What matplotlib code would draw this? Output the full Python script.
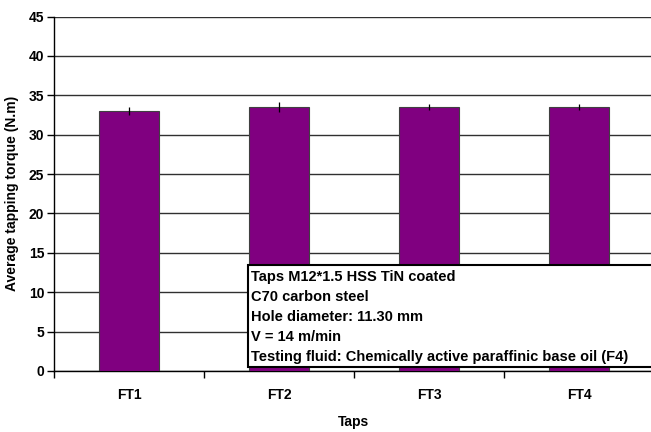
import matplotlib
matplotlib.use('Agg')
import matplotlib.pyplot as plt
import numpy as np

taps = ['FT1', 'FT2', 'FT3', 'FT4']
torque = [33.0, 33.5, 33.5, 33.5]
torque_err = [0.55, 0.65, 0.4, 0.4]

info_lines = ['Taps M12*1.5 HSS TiN coated',
              'C70 carbon steel',
              'Hole diameter: 11.30 mm',
              'V = 14 m/min',
              'Testing fluid: Chemically active paraffinic base oil (F4)']

plt.rcParams['font.family'] = ['Liberation Sans', 'DejaVu Sans']
plt.rcParams['font.weight'] = 'bold'

fig = plt.figure(figsize=(6.51, 4.32), dpi=100)
W, H = 651, 432
ax = fig.add_axes([54 / W, 1 - 371 / H, 600 / W, (371 - 16.5) / H])

x = np.arange(len(taps))
ax.bar(x, torque, width=0.4, color='#800080', edgecolor='#404040', linewidth=0.8, zorder=3)
ax.errorbar(x, torque, yerr=torque_err, fmt='none', ecolor='black', elinewidth=0.9,
            capsize=0, zorder=4)

ax.set_xlim(-0.5, len(taps) - 0.5)
ax.set_ylim(0, 45)
ax.set_yticks(np.arange(0, 46, 5))
ax.yaxis.grid(True, color='#303030', linewidth=1.0, zorder=0)
ax.set_axisbelow(True)

ax.set_xticks(np.arange(-0.5, len(taps), 1.0))
ax.set_xticklabels([])
ax.set_xticks(x, minor=True)
ax.set_xticklabels(taps, minor=True, fontsize=10, fontweight='bold')
ax.tick_params(axis='x', which='minor', length=0, pad=12)
ax.tick_params(axis='x', which='major', length=5, width=1, direction='out')
ax.tick_params(axis='y', length=5, width=1, direction='out', labelsize=10, pad=2)
for lab in ax.get_yticklabels():
    lab.set_fontweight('bold')

for s in ['top', 'right']:
    ax.spines[s].set_visible(False)
ax.spines['left'].set_linewidth(1.0)
ax.spines['bottom'].set_linewidth(1.0)

fig.text(354 / W, 1 - 422 / H, 'Taps', fontsize=10, fontweight='bold',
         ha='center', va='center')
fig.text(12 / W, 1 - 193 / H, 'Average tapping torque (N.m)', rotation=90,
         fontsize=10, fontweight='bold', ha='center', va='center')

# info box
box = plt.Rectangle((248 / W, 1 - 367 / H), 420 / W, 102 / H, transform=fig.transFigure,
                    facecolor='white', edgecolor='black', linewidth=1.5, zorder=5)
fig.patches.append(box)
for i, line in enumerate(info_lines):
    fig.text(251 / W, 1 - (277 + i * 20) / H, line, fontsize=10.5, fontweight='bold',
             ha='left', va='center', zorder=6)

fig.savefig('out.png', dpi=100)
